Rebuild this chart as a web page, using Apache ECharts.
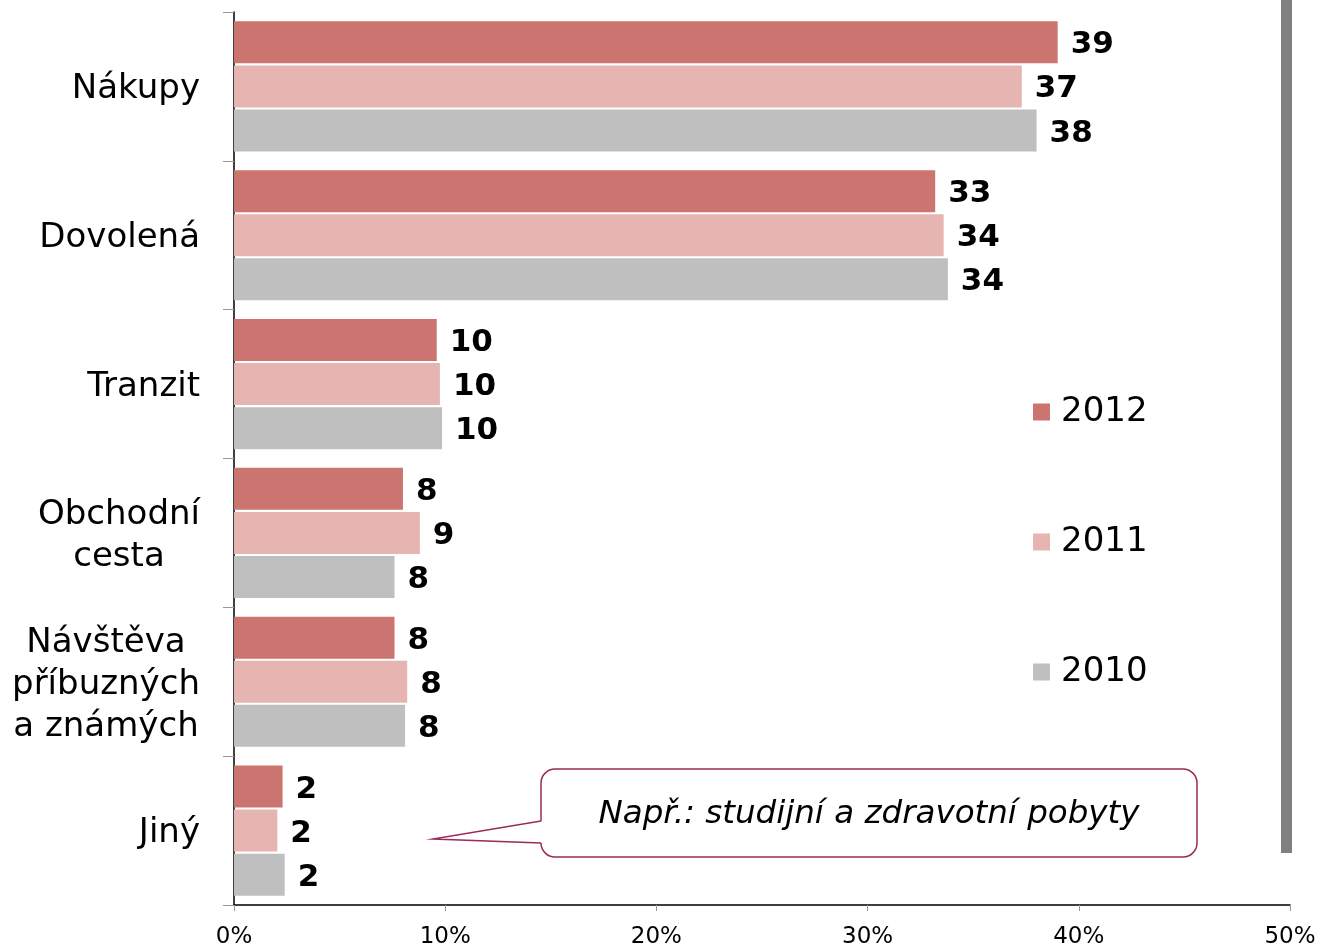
<!DOCTYPE html>
<html>
<head>
<meta charset="utf-8">
<script src="https://cdn.jsdelivr.net/npm/echarts@6/dist/echarts.min.js"></script>
<style>html,body{margin:0;padding:0;background:#fff}#c{width:1319px;height:949px}</style>
</head>
<body>
<div id="c"></div>
<script>
var categories = ["Nákupy", "Dovolená", "Tranzit", "Obchodní\ncesta", "Návštěva\npříbuzných\na známých", "Jiný"];
var seriesNames = ["2012", "2011", "2010"];
var values2012 = [39.0, 33.2, 9.6, 8.0, 7.6, 2.3];
var values2011 = [37.3, 33.6, 9.75, 8.8, 8.2, 2.05];
var values2010 = [38.0, 33.8, 9.85, 7.6, 8.1, 2.4];
var xTicks = [0, 10, 20, 30, 40, 50];
var calloutText = "Např.: studijní a zdravotní pobyty";

var colors = ["#CC7470", "#E6B5B1", "#BFBFBF"];
var FONT = "DejaVu Sans";
var CALLOUT = "#9C2A5C";

var chart = echarts.init(document.getElementById('c'));

function mkSeries(name, data, color) {
  return {
    name: name,
    type: 'bar',
    data: data,
    barWidth: 42,
    barGap: '5%',
    itemStyle: { color: color },
    label: {
      show: true,
      position: 'right',
      distance: 13,
      offset: [0, 3],
      fontFamily: FONT,
      fontWeight: 'bold',
      fontSize: 31,
      color: '#000',
      formatter: function (p) { return String(Math.round(p.value)); }
    }
  };
}

var option = {
  animation: false,
  color: colors,
  textStyle: { fontFamily: FONT },
  grid: { left: 234, right: 29, top: 12, bottom: 43, containLabel: false },
  legend: {
    orient: 'vertical',
    left: 1033,
    top: 395,
    padding: 0,
    itemWidth: 17,
    itemHeight: 17,
    itemGap: 96,
    icon: 'rect',
    data: seriesNames,
    textStyle: { fontFamily: FONT, fontSize: 34, color: '#000', lineHeight: 34, padding: [0, 0, 0, 6] }
  },
  xAxis: {
    type: 'value',
    min: xTicks[0],
    max: xTicks[xTicks.length - 1],
    interval: 10,
    axisLine: { show: true, lineStyle: { color: '#000', width: 1.5 } },
    axisTick: { show: true, length: 6, lineStyle: { color: '#999' } },
    splitLine: { show: false },
    axisLabel: { fontFamily: FONT, fontSize: 23, color: '#000', margin: 21, formatter: '{value}%' }
  },
  yAxis: {
    type: 'category',
    inverse: true,
    data: categories,
    axisLine: { show: true, lineStyle: { color: '#000', width: 1.5 } },
    axisTick: { show: true, length: 11, lineStyle: { color: '#999' } },
    axisLabel: {
      fontFamily: FONT,
      fontSize: 34,
      color: '#000',
      margin: 34,
      lineHeight: 42,
      padding: [6, 0, 0, 0],
      formatter: function (v) {
        var lines = v.split('\n');
        if (lines.length === 1) return v;
        var tag = lines.length === 2 ? 'o' : 'n';
        return lines.map(function (l) { return '{' + tag + '|' + l + '}'; }).join('\n');
      },
      rich: {
        o: { fontFamily: FONT, fontSize: 34, color: '#000', lineHeight: 42, width: 162, align: 'center' },
        n: { fontFamily: FONT, fontSize: 34, color: '#000', lineHeight: 42, width: 188, align: 'center' }
      }
    }
  },
  series: [
    mkSeries(seriesNames[0], values2012, colors[0]),
    mkSeries(seriesNames[1], values2011, colors[1]),
    mkSeries(seriesNames[2], values2010, colors[2])
  ],
  graphic: [
    {
      type: 'rect',
      shape: { x: 1281, y: 0, width: 11, height: 853 },
      style: { fill: '#808080' },
      z: 10
    },
    {
      type: 'rect',
      shape: { x: 541, y: 769, width: 656, height: 88, r: 14 },
      style: { fill: '#fff', stroke: CALLOUT, lineWidth: 1.5 },
      z: 10
    },
    {
      type: 'polygon',
      shape: { points: [[543, 821], [433, 839], [543, 843]] },
      style: { fill: '#fff' },
      z: 11
    },
    {
      type: 'polyline',
      shape: { points: [[541, 821], [433, 839], [541, 843]] },
      style: { fill: null, stroke: CALLOUT, lineWidth: 1.5 },
      z: 12
    },
    {
      type: 'text',
      x: 869,
      y: 815,
      style: {
        text: calloutText,
        fontFamily: FONT,
        fontStyle: 'italic',
        fontSize: 32.5,
        fill: '#000',
        align: 'center',
        verticalAlign: 'middle'
      },
      z: 12
    }
  ]
};
chart.setOption(option);
</script>
</body>
</html>
